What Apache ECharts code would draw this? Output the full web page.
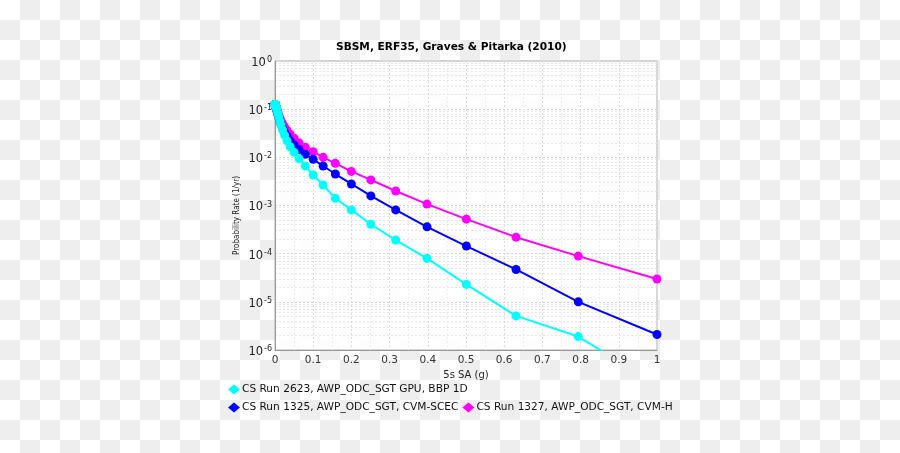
<!DOCTYPE html>
<html>
<head>
<meta charset="utf-8">
<script src="https://cdn.jsdelivr.net/npm/echarts@6/dist/echarts.min.js"></script>
<style>
html,body{margin:0;padding:0;width:900px;height:453px;overflow:hidden;
background:repeating-conic-gradient(#eeeeee 0% 25%, #ffffff 0% 50%) 0 0 / 40px 40px;}
#c{width:900px;height:453px;}
</style>
</head>
<body>
<div id="c"></div>
<script>
const titleText = "SBSM, ERF35, Graves & Pitarka (2010)";
const xName = "5s SA (g)";
const yName = "Probability Rate (1/yr)";
const xTicks = [0, 0.1, 0.2, 0.3, 0.4, 0.5, 0.6, 0.7, 0.8, 0.9, 1];
const yTicks = [1e-6, 1e-5, 1e-4, 1e-3, 1e-2, 1e-1, 1];

const iml = [0.0001, 0.00013, 0.00016, 0.0002, 0.00025, 0.00032, 0.0004, 0.0005, 0.00063, 0.00079,
  0.001, 0.0013, 0.0016, 0.002, 0.0025, 0.0032, 0.004, 0.005, 0.0063, 0.0079,
  0.01, 0.0126, 0.0158, 0.02, 0.0251, 0.0316, 0.0398, 0.0501, 0.0631, 0.0794,
  0.1, 0.126, 0.158, 0.2, 0.251, 0.316, 0.398, 0.501, 0.631, 0.794, 1.0];

const nameCyan = "CS Run 2623, AWP_ODC_SGT GPU, BBP 1D";
const nameBlue = "CS Run 1325, AWP_ODC_SGT, CVM-SCEC";
const nameMag = "CS Run 1327, AWP_ODC_SGT, CVM-H";

const cyanVals = [0.125, 0.125, 0.125, 0.125, 0.125, 0.1248, 0.1245, 0.124, 0.1235, 0.1228,
  0.1215, 0.12, 0.119, 0.116, 0.1135, 0.11, 0.105, 0.098, 0.089, 0.080,
  0.069, 0.057, 0.047, 0.037, 0.029, 0.022, 0.0166, 0.0127, 0.0094, 0.0066,
  0.0043, 0.00267, 0.00141, 0.00081, 0.000407, 0.000192, 0.00008, 0.000023, 0.0000051, 0.0000019, 0.00000019];

const blueVals = [0.125, 0.125, 0.125, 0.125, 0.125, 0.1248, 0.1245, 0.124, 0.1235, 0.1225,
  0.121, 0.119, 0.117, 0.114, 0.110, 0.106, 0.100, 0.093, 0.085, 0.076,
  0.066, 0.057, 0.048, 0.040, 0.033, 0.027, 0.022, 0.018, 0.0145, 0.0116,
  0.0091, 0.0066, 0.0045, 0.0028, 0.00158, 0.00081, 0.00036, 0.000144, 0.000047, 0.0000100, 0.0000021];

const magVals = [0.125, 0.125, 0.125, 0.125, 0.125, 0.1248, 0.1245, 0.124, 0.1235, 0.123,
  0.122, 0.121, 0.119, 0.117, 0.114, 0.110, 0.105, 0.099, 0.092, 0.084,
  0.075, 0.066, 0.058, 0.050, 0.043, 0.036, 0.030, 0.025, 0.020, 0.0161,
  0.0131, 0.0100, 0.0075, 0.0051, 0.0034, 0.0020, 0.00107, 0.00052, 0.00022, 0.000089, 0.0000298];

function pairs(xs, ys){ return xs.map((x,i)=>[x, ys[i]]); }

const chart = echarts.init(document.getElementById('c'), null, {renderer:'canvas'});
const font = 'DejaVu Sans';
const lineSeries = (name, color, vals, z) => ({
  name, type:'line', data: pairs(iml, vals), color, z,
  lineStyle:{width:2, color}, itemStyle:{color},
  symbol:'circle', symbolSize:9, showSymbol:true, clip:true, animation:false
});

chart.setOption({
  animation:false,
  title:{text:titleText, left:331, top:37,
    textStyle:{fontFamily:font, fontSize:10.6, fontWeight:'bold', color:'#000'}},
  grid:{left:275, right:243, top:61, bottom:103, show:true,
    backgroundColor:'rgba(255,255,255,0.85)', borderColor:'#b0b0b0', borderWidth:1},
  xAxis:{type:'value', min:xTicks[0], max:xTicks[xTicks.length-1], interval:0.1,
    name:xName, nameLocation:'middle', nameGap:19,
    nameTextStyle:{fontFamily:font, fontSize:10, color:'#222'},
    axisLine:{show:true, lineStyle:{color:'#999'}}, axisTick:{show:false},
    axisLabel:{fontFamily:font, fontSize:10.5, color:'#333', margin:5,
      formatter:v=> (v===0?'0':(v===1?'1':v.toFixed(1)))},
    splitLine:{show:true, lineStyle:{color:'#dadada', type:[2,2]}},
    minorTick:{show:false, splitNumber:2},
    minorSplitLine:{show:true, lineStyle:{color:'#ececec', type:[2,2]}}},
  yAxis:{type:'log', logBase:10, min:yTicks[0], max:yTicks[yTicks.length-1],
    name:yName, nameLocation:'middle', nameGap:34, nameRotate:90,
    nameTextStyle:{fontFamily:'DejaVu Sans Condensed', fontSize:8, color:'#222', padding:[0,20,0,0]},
    axisLine:{show:true, lineStyle:{color:'#999'}}, axisTick:{show:false},
    axisLabel:{margin:3, color:'#222',
      formatter:v=>{const e=Math.round(Math.log10(v)); return '{b|10}{s|'+(e===0?'0':e)+'}';},
      rich:{b:{fontFamily:font, fontSize:11.5, color:'#222', lineHeight:16, verticalAlign:'bottom'},
            s:{fontFamily:font, fontSize:8, color:'#222', lineHeight:16, padding:[0,0,5,1], verticalAlign:'bottom'}}},
    splitLine:{show:true, lineStyle:{color:'#d6d6d6', type:[2,2]}},
    minorTick:{show:false, splitNumber:9},
    minorSplitLine:{show:true, lineStyle:{color:'#e6e6e6', type:[2,2]}}},
  legend:[
    {data:[nameCyan], left:223, top:379, orient:'horizontal', itemWidth:12, itemHeight:10, itemGap:8,
      icon:'diamond', textStyle:{fontFamily:font, fontSize:10.6, color:'#111', padding:[0,0,0,-3]}},
    {data:[nameBlue, nameMag], left:223, top:397, orient:'horizontal', itemWidth:12, itemHeight:10, itemGap:4,
      icon:'diamond', textStyle:{fontFamily:font, fontSize:10.6, color:'#111', padding:[0,0,0,-3]}}
  ],
  series:[
    lineSeries(nameCyan, '#00ffff', cyanVals, 4),
    lineSeries(nameBlue, '#0000ff', blueVals, 3),
    lineSeries(nameMag, '#ff00ff', magVals, 2)
  ]
});
</script>
</body>
</html>
